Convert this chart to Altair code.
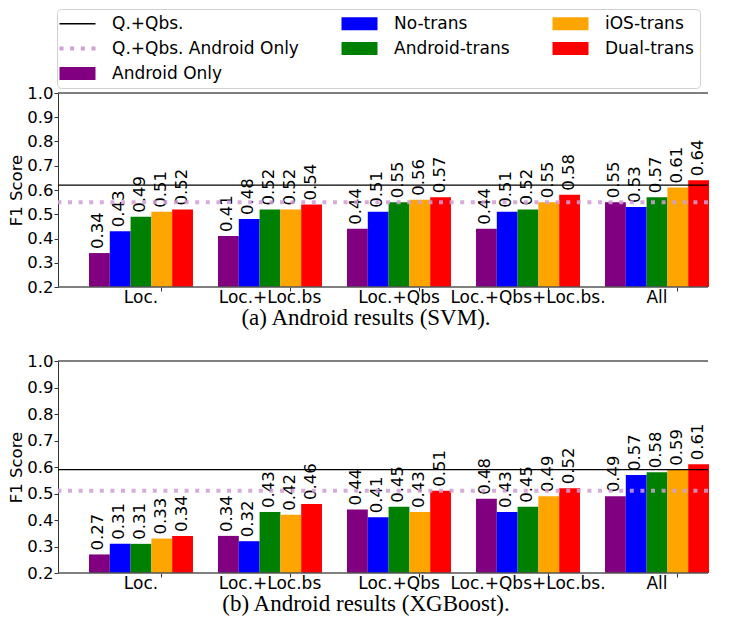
import altair as alt
import pandas as pd

# ---------------- data ----------------
CATEGORIES = ["Loc.", "Loc.+Loc.bs", "Loc.+Qbs", "Loc.+Qbs+Loc.bs.", "All"]
SERIES = ["Android Only", "No-trans", "Android-trans", "iOS-trans", "Dual-trans"]

SVM_ANDROID_ONLY = [0.34, 0.41, 0.44, 0.44, 0.55]
SVM_NO_TRANS = [0.43, 0.48, 0.51, 0.51, 0.53]
SVM_ANDROID_TRANS = [0.49, 0.52, 0.55, 0.52, 0.57]
SVM_IOS_TRANS = [0.51, 0.52, 0.56, 0.55, 0.61]
SVM_DUAL_TRANS = [0.52, 0.54, 0.57, 0.58, 0.64]
SVM_QQBS = [0.62]
SVM_QQBS_ANDROID_ONLY = [0.55]

XGB_ANDROID_ONLY = [0.27, 0.34, 0.44, 0.48, 0.49]
XGB_NO_TRANS = [0.31, 0.32, 0.41, 0.43, 0.57]
XGB_ANDROID_TRANS = [0.31, 0.43, 0.45, 0.45, 0.58]
XGB_IOS_TRANS = [0.33, 0.42, 0.43, 0.49, 0.59]
XGB_DUAL_TRANS = [0.34, 0.46, 0.51, 0.52, 0.61]
XGB_QQBS = [0.59]
XGB_QQBS_ANDROID_ONLY = [0.51]

Y_DOMAIN = [0.2, 1.0]
Y_TICKS = [0.2, 0.3, 0.4, 0.5, 0.6, 0.7, 0.8, 0.9, 1.0]
TITLES = ["(a) Android results (SVM).", "(b) Android results (XGBoost)."]

LINE_1 = "Q.+Qbs."
LINE_2 = "Q.+Qbs. Android Only"
# legend entries, row by row (3 columns)
LEGEND_ORDER = [LINE_1, "No-trans", "iOS-trans", LINE_2, "Android-trans", "Dual-trans", "Android Only"]

# ---------------- style ----------------
DOT_COLOR = "#cf9fd4"
LEGEND_COLORS = ["black", "blue", "orange", DOT_COLOR, "green", "red", "purple"]
SANS = "DejaVu Sans"
SERIF = "Liberation Serif"

RECT_PATH = "M-3.6,-1.3H3.6V1.3H-3.6Z"
LINE_PATH = "M-3.6,-0.13H3.6V0.13H-3.6Z"
DOTS_PATH = ("M-3.6,-0.4h0.8v0.8h-0.8Z M-1.467,-0.4h0.8v0.8h-0.8Z "
             "M0.667,-0.4h0.8v0.8h-0.8Z M2.8,-0.4h0.8v0.8h-0.8Z")

shape_expr = (
    f"datum.value == '{LINE_1}' ? '{LINE_PATH}' : "
    f"(datum.value == '{LINE_2}' ? '{DOTS_PATH}' : '{RECT_PATH}')"
)

color_scale = alt.Scale(domain=LEGEND_ORDER, range=LEGEND_COLORS)

legend = alt.Legend(
    title=None,
    orient="none",
    legendX=-1,
    legendY=0,
    values=LEGEND_ORDER,
    direction="horizontal",
    columns=3,
    columnPadding=42,
    rowPadding=7,
    padding=6,
    gridAlign="each",
    labelFont=SANS,
    labelFontSize=17,
    labelColor="black",
    labelLimit=400,
    labelOffset=26,
    symbolSize=100,
    symbolOffset=6,
    symbolType=alt.ExprRef(expr=shape_expr),
    symbolStrokeWidth=0,
    symbolOpacity=1,
    strokeColor="#d0d0d0",
    fillColor="white",
    cornerRadius=4,
)

PLOT_W = 650


def make_panel(series_values, qqbs, qqbs_android, title, height):
    rows = []
    for s, vals in zip(SERIES, series_values):
        for c, v in zip(CATEGORIES, vals):
            rows.append({"category": c, "series": s, "value": v})
    df = pd.DataFrame(rows)

    x = alt.X(
        "category:N",
        sort=CATEGORIES,
        title=None,
        scale=alt.Scale(range=[31, 651], paddingInner=0.194, paddingOuter=0),
        axis=alt.Axis(
            labelAngle=0, domain=False, ticks=True, tickSize=4, tickColor="#333333",
            bandPosition=0.7, labelPadding=-2, labelFont=SANS, labelFontSize=17,
            labelColor="black",
        ),
    )
    xo = alt.XOffset("series:N", sort=SERIES,
                     scale=alt.Scale(paddingInner=0, paddingOuter=0))
    y = alt.Y(
        "value:Q",
        title="F1 Score",
        scale=alt.Scale(domain=Y_DOMAIN, nice=False, zero=False),
        axis=alt.Axis(
            values=Y_TICKS, format=".1f", grid=False, tickSize=4, tickColor="#333333",
            domainColor="#333333", labelFont=SANS, labelFontSize=16.5, labelColor="black",
            labelPadding=1, titleFont=SANS, titleFontSize=16.5, titleFontWeight="normal",
            titleColor="black", titlePadding=2,
        ),
    )

    bars = alt.Chart(df).mark_bar().encode(
        x=x,
        xOffset=xo,
        y=y,
        y2=alt.Y2(datum=Y_DOMAIN[0]),
        color=alt.Color("series:N", scale=color_scale, legend=None),
    )
    labels = alt.Chart(df).mark_text(
        angle=270, align="left", baseline="middle", dx=4, dy=-1,
        font=SANS, fontSize=16.5, color="black",
    ).encode(
        x=x, xOffset=xo, y=y,
        text=alt.Text("value:Q", format=".2f"),
    )
    spines = alt.Chart(pd.DataFrame({"value": Y_DOMAIN})).mark_rule(
        color="#555555", strokeWidth=1.3
    ).encode(y=y)
    line1 = alt.Chart(pd.DataFrame({"value": qqbs})).mark_rule(
        color="black", strokeWidth=1.2
    ).encode(y=y)
    line2 = alt.Chart(pd.DataFrame({"value": qqbs_android})).mark_rule(
        color=DOT_COLOR, strokeWidth=4, strokeDash=[4, 6.6], opacity=0.85
    ).encode(y=y)

    return alt.layer(bars, labels, spines, line1, line2).properties(
        width=PLOT_W,
        height=height,
        title=alt.TitleParams(
            text=title, orient="bottom", anchor="middle", frame="group", font=SERIF,
            fontSize=23, fontWeight="normal", color="black", offset=2, dx=-17,
        ),
    )


# thin strip that carries the shared legend above the two panels
legend_strip = alt.Chart(pd.DataFrame({"series": LEGEND_ORDER})).mark_square(
    size=1
).encode(
    color=alt.Color("series:N", scale=color_scale, legend=legend),
).properties(width=PLOT_W, height=10)

top = make_panel(
    [SVM_ANDROID_ONLY, SVM_NO_TRANS, SVM_ANDROID_TRANS, SVM_IOS_TRANS, SVM_DUAL_TRANS],
    SVM_QQBS, SVM_QQBS_ANDROID_ONLY, TITLES[0], 194,
)
bottom = make_panel(
    [XGB_ANDROID_ONLY, XGB_NO_TRANS, XGB_ANDROID_TRANS, XGB_IOS_TRANS, XGB_DUAL_TRANS],
    XGB_QQBS, XGB_QQBS_ANDROID_ONLY, TITLES[1], 212,
)

chart = (
    alt.vconcat(legend_strip, top, bottom, spacing=74, bounds="flush")
    .resolve_scale(color="independent")
    .properties(padding={"left": 0, "top": 0, "right": 0, "bottom": 0})
    .configure_view(stroke=None)
)

chart.save("out.html", embed_options={"renderer": "svg", "actions": False})
